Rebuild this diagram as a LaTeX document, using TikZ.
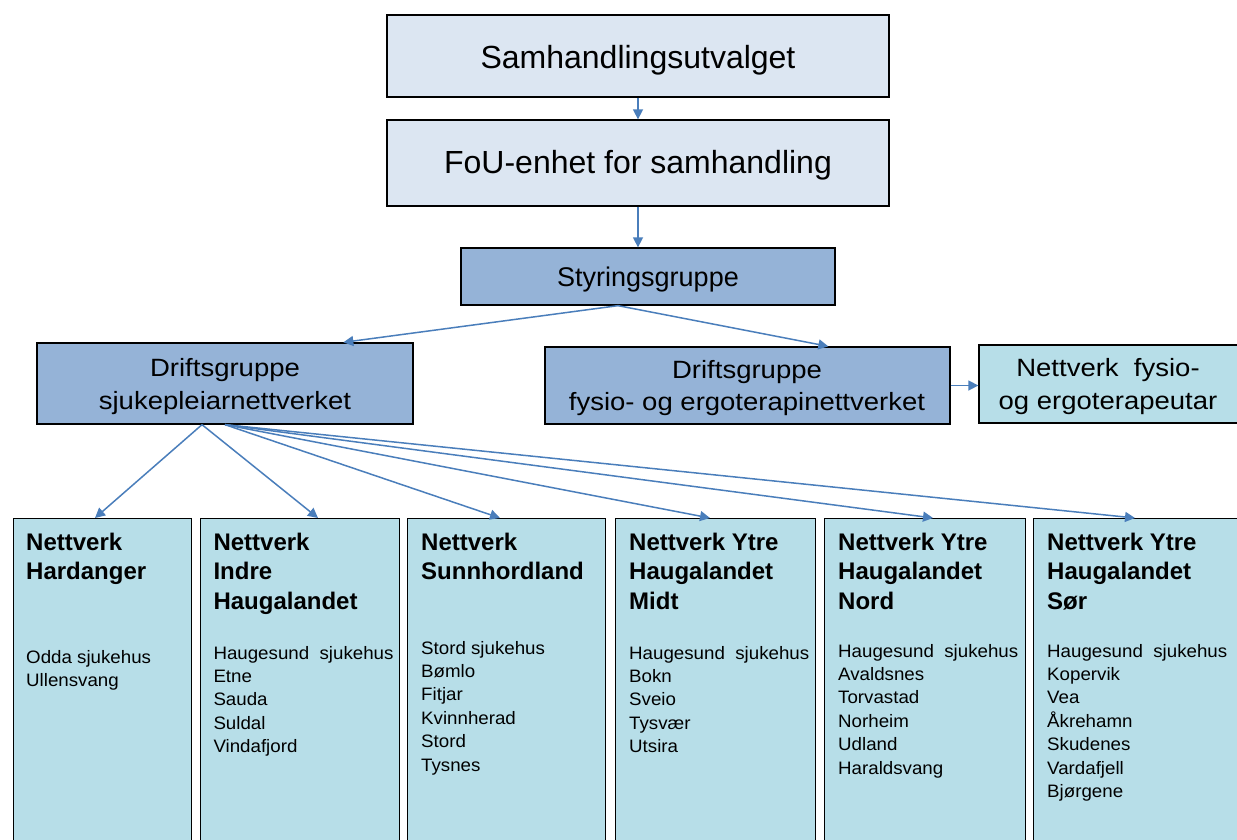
\documentclass[tikz,border=0pt]{standalone}
\usepackage{fontspec}
\setmainfont{Liberation Sans}
\newfontfamily\widefont[FakeStretch=1.1]{Liberation Sans}
\newfontfamily\itemfont[FakeStretch=1.04]{Liberation Sans}
\usetikzlibrary{arrows.meta,calc}
\definecolor{topfill}{HTML}{DCE6F2}
\definecolor{midfill}{HTML}{95B3D7}
\definecolor{netfill}{HTML}{B7DEE8}
\definecolor{arrowc}{HTML}{4A7EBB}
\begin{document}
\begin{tikzpicture}[x=1pt,y=-1pt,
  box/.style={draw=black, line width=1.3pt, inner sep=0pt, rectangle},
  topbox/.style={box, fill=topfill},
  midbox/.style={box, fill=midfill},
  netbox/.style={box, fill=netfill, anchor=north west, minimum height=340pt},
  lbl/.style={inner sep=0pt, anchor=base},
  midtext/.style={lbl, font=\widefont\fontsize{25}{32.5}\selectfont},
  headtext/.style={inner sep=0pt, anchor=base west, font=\bfseries\fontsize{24}{29.5}\selectfont},
  itemtext/.style={inner sep=0pt, anchor=base west, font=\itemfont\fontsize{18}{23.4}\selectfont},
  conn/.style={draw=arrowc, line width=1.5pt, -{Triangle[length=10pt,width=10pt]}}]
\useasboundingbox (0,0) rectangle (1237,839);
\clip (0,0) rectangle (1237,839);
\fill[white] (0,0) rectangle (1237,839);

% top boxes
\node[topbox, minimum width=502pt, minimum height=82pt] (samh) at (638,56) {};
\node[lbl, font=\fontsize{32}{38}\selectfont] (samhT) at (638,68.3) {Samhandlingsutvalget};
\node[topbox, minimum width=502pt, minimum height=86pt] (fou) at (638,163) {};
\node[lbl, font=\fontsize{32}{38}\selectfont] (fouT) at (638,173.3) {FoU-enhet for samhandling};
\node[midbox, minimum width=374pt, minimum height=57pt] (styr) at (648,276.5) {};
\node[lbl, font=\fontsize{27}{32}\selectfont] (styrT) at (648,286) {Styringsgruppe};

% middle row
\node[midbox, minimum width=376pt, minimum height=81pt] (driftS) at (225,383.5) {};
\node[midtext] (driftST) at (225,376.7) {\begin{tabular}[t]{@{}c@{}}Driftsgruppe\\ sjukepleiarnettverket\end{tabular}};
\node[midbox, minimum width=405pt, minimum height=77pt] (driftF) at (747.5,385.5) {};
\node[midtext] (driftFT) at (747,378) {\begin{tabular}[t]{@{}c@{}}Driftsgruppe\\ fysio-\ og ergoterapinettverket\end{tabular}};
\node[box, fill=netfill, minimum width=262pt, minimum height=78pt] (nettF) at (1110,384) {};
\node[midtext] (nettFT) at (1108,376.7) {\begin{tabular}[t]{@{}c@{}}Nettverk\ \ fysio-\\ og ergoterapeutar\end{tabular}};

% bottom boxes
\node[netbox, minimum width=178pt] (n1) at (13,518) {};
\node[netbox, minimum width=199pt] (n2) at (200,518) {};
\node[netbox, minimum width=198pt] (n3) at (407,518) {};
\node[netbox, minimum width=200pt] (n4) at (615,518) {};
\node[netbox, minimum width=201pt] (n5) at (824,518) {};
\node[netbox, minimum width=210pt] (n6) at (1033,518) {};

\node[headtext] (h1) at (26,550) {\begin{tabular}[t]{@{}l@{}}Nettverk\\ Hardanger\end{tabular}};
\node[headtext] (h2) at (213.3,550) {\begin{tabular}[t]{@{}l@{}}Nettverk\\ Indre\\ Haugalandet\end{tabular}};
\node[headtext] (h3) at (421,550) {\begin{tabular}[t]{@{}l@{}}Nettverk\\ Sunnhordland\end{tabular}};
\node[headtext] (h4) at (629,550) {\begin{tabular}[t]{@{}l@{}}Nettverk Ytre\\ Haugalandet\\ Midt\end{tabular}};
\node[headtext] (h5) at (838,550) {\begin{tabular}[t]{@{}l@{}}Nettverk Ytre\\ Haugalandet\\ Nord\end{tabular}};
\node[headtext] (h6) at (1047,550) {\begin{tabular}[t]{@{}l@{}}Nettverk Ytre\\ Haugalandet\\ Sør\end{tabular}};

\node[itemtext] (i1) at (26,663) {\begin{tabular}[t]{@{}l@{}}Odda sjukehus\\ Ullensvang\end{tabular}};
\node[itemtext] (i2) at (213.3,659) {\begin{tabular}[t]{@{}l@{}}Haugesund\ \ sjukehus\\ Etne\\ Sauda\\ Suldal\\ Vindafjord\end{tabular}};
\node[itemtext] (i3) at (421,654) {\begin{tabular}[t]{@{}l@{}}Stord sjukehus\\ Bømlo\\ Fitjar\\ Kvinnherad\\ Stord\\ Tysnes\end{tabular}};
\node[itemtext] (i4) at (629,659) {\begin{tabular}[t]{@{}l@{}}Haugesund\ \ sjukehus\\ Bokn\\ Sveio\\ Tysvær\\ Utsira\end{tabular}};
\node[itemtext] (i5) at (838,657) {\begin{tabular}[t]{@{}l@{}}Haugesund\ \ sjukehus\\ Avaldsnes\\ Torvastad\\ Norheim\\ Udland\\ Haraldsvang\end{tabular}};
\node[itemtext] (i6) at (1047,657) {\begin{tabular}[t]{@{}l@{}}Haugesund\ \ sjukehus\\ Kopervik\\ Vea\\ Åkrehamn\\ Skudenes\\ Vardafjell\\ Bjørgene\end{tabular}};

% connectors
\draw[conn] (samh.south) -- (fou.north);
\draw[conn] (fou.south) -- (fou.south |- styr.north);
\coordinate (styrout) at ($(styr.south)+(-30,0)$);
\draw[conn] (styrout) -- ($(driftS.north west)+(307,0)$);
\draw[conn] (styrout) -- ($(driftF.north west)+(284,0)$);
\draw[conn] (driftF.east) -- (driftF.east -| nettF.west);
\coordinate (dsA) at ($(driftS.south)+(-23,0)$);
\draw[conn] (dsA) -- ($(n1.north west)+(82,0)$);
\draw[conn] (dsA) -- ($(n2.north west)+(118,0)$);
\draw[conn] (driftS.south) -- ($(n3.north west)+(93,0)$);
\draw[conn] (driftS.south) -- ($(n4.north west)+(95,0)$);
\draw[conn] (driftS.south) -- ($(n5.north west)+(109,0)$);
\draw[conn] (driftS.south) -- ($(n6.north west)+(102,0)$);
\end{tikzpicture}
\end{document}
